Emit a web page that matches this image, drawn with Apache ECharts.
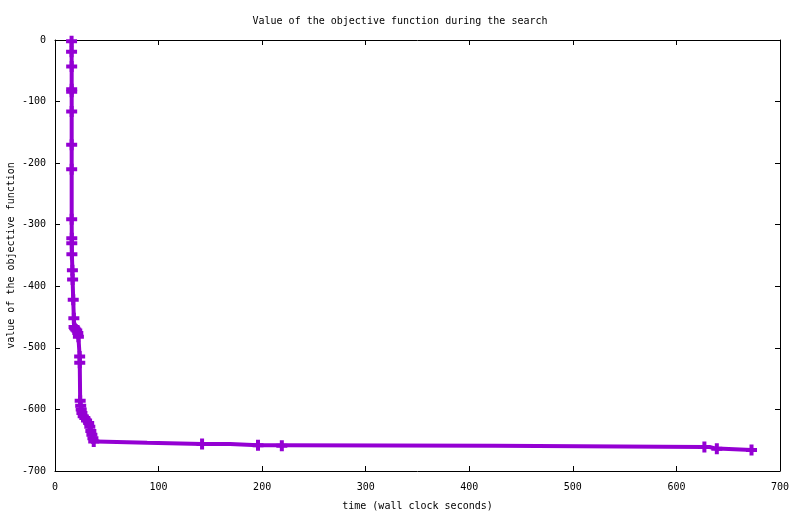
<!DOCTYPE html>
<html>
<head>
<meta charset="utf-8">
<script src="https://cdn.jsdelivr.net/npm/echarts@6/dist/echarts.min.js"></script>
<style>
html,body{margin:0;padding:0;background:#fff;}
#chart{width:800px;height:514px;}
</style>
</head>
<body>
<div id="chart"></div>
<script>
// Data
var times = [16.0, 16.0, 16.1, 16.1, 16.1, 16.1, 16.1, 16.1, 16.1, 16.2, 16.2, 16.3, 16.8, 17.0, 17.6, 18.2,
  18.4, 19.0, 20.0, 21.0, 22.0, 22.6, 23.8, 23.9, 24.3, 24.8, 25.3, 26.0, 27.2, 28.8, 30.5, 32.5, 33.6,
  34.6, 35.6, 36.6, 37.4, 40, 89, 142, 169, 196, 219, 425, 627, 632, 639, 645, 672.5];
var values = [-2, -19, -43, -80, -84, -116, -170, -210, -291, -322, -330, -348, -374, -389, -422, -452,
  -466, -468, -470, -472, -476, -482, -514, -524, -586, -594, -600, -606, -611, -614, -618, -622, -628,
  -635, -641, -647, -652, -654, -656, -656, -658, -658, -659, -661, -661, -664, -664, -666, -666];
var marked = [1, 1, 1, 1, 1, 1, 1, 1, 1, 1, 1, 1, 1, 1, 1, 1,
  1, 1, 1, 1, 1, 1, 1, 1, 1, 1, 1, 1, 1, 1, 1, 1, 1,
  1, 1, 1, 1, 0, 0, 1, 0, 1, 1, 0, 1, 0, 1, 0, 1];
var xTicks = [0, 100, 200, 300, 400, 500, 600, 700];
var yTicks = [0, -100, -200, -300, -400, -500, -600, -700];

var titleText = 'Value of the objective function during the search';
var xName = 'time (wall clock seconds)';
var yName = 'value of the objective function';

var lineData = times.map(function (t, i) { return [t, values[i]]; });
var markData = [];
times.forEach(function (t, i) { if (marked[i]) markData.push([t, values[i]]); });

var color = '#9400d3';
var font = 'DejaVu Sans Mono';
var plus = 'path://M3.5,0h4v3.5h3.5v4h-3.5v3.5h-4v-3.5h-3.5v-4h3.5z';

var chart = echarts.init(document.getElementById('chart'), null, {renderer: 'canvas'});
var axisCommon = {
  axisLine: {show: true, onZero: false, lineStyle: {color: '#000', width: 1}},
  axisTick: {show: true, inside: true, length: 5, lineStyle: {color: '#000', width: 1}},
  splitLine: {show: false}
};
chart.setOption({
  animation: false,
  backgroundColor: '#fff',
  title: {
    text: titleText, left: 'center', top: 11,
    textStyle: {fontFamily: font, fontSize: 10, fontWeight: 'normal', color: '#000'}
  },
  grid: {left: 55, right: 20, top: 40, bottom: 43, containLabel: false, outerBoundsMode: 'none'},
  xAxis: [
    Object.assign({
      type: 'value', min: xTicks[0], max: xTicks[xTicks.length - 1], interval: 100,
      position: 'bottom',
      name: xName, nameLocation: 'middle', nameGap: 30,
      nameTextStyle: {fontFamily: font, fontSize: 10, color: '#000'},
      axisLabel: {fontFamily: font, fontSize: 10, color: '#000', margin: 11}
    }, axisCommon),
    Object.assign({
      type: 'value', min: xTicks[0], max: xTicks[xTicks.length - 1], interval: 100,
      position: 'top', axisLabel: {show: false}
    }, axisCommon)
  ],
  yAxis: [
    Object.assign({
      type: 'value', min: yTicks[yTicks.length - 1], max: yTicks[0], interval: 100,
      position: 'left',
      name: yName, nameLocation: 'middle', nameGap: 44, nameRotate: 90, nameMoveOverlap: false,
      nameTextStyle: {fontFamily: font, fontSize: 10, color: '#000', verticalAlign: 'middle'},
      axisLabel: {fontFamily: font, fontSize: 10, color: '#000', margin: 9}
    }, axisCommon),
    Object.assign({
      type: 'value', min: yTicks[yTicks.length - 1], max: yTicks[0], interval: 100,
      position: 'right', axisLabel: {show: false}
    }, axisCommon)
  ],
  series: [
    {
      type: 'line', data: lineData, step: 'end', showSymbol: false, symbol: 'none',
      lineStyle: {color: color, width: 4}, xAxisIndex: 0, yAxisIndex: 0, z: 2
    },
    {
      type: 'scatter', data: markData, symbol: plus, symbolSize: 11, symbolKeepAspect: true,
      itemStyle: {color: color, opacity: 1}, xAxisIndex: 0, yAxisIndex: 0, z: 3, clip: false
    }
  ]
});
</script>
</body>
</html>
